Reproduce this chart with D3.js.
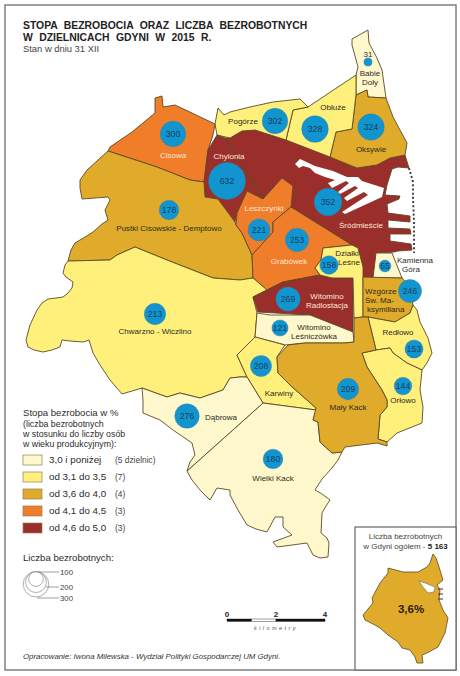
<!DOCTYPE html>
<html lang="pl">
<head>
<meta charset="utf-8">
<title>Stopa bezrobocia w dzielnicach Gdyni</title>
<script src="https://cdn.jsdelivr.net/npm/d3@7"></script>
<style>
  html, body { margin: 0; padding: 0; background: #fff; }
  svg { display: block; }
  text { font-family: "Liberation Sans", Arial, sans-serif; }
</style>
</head>
<body>
<svg id="chart" width="460" height="676"></svg>
<script>
// Dzielnice: names, rate class (0-4) and number of unemployed, same order in each list
const districts = ["Śródmieście", "Babie Doły", "Oksywie", "Obłuże", "Pogórze", "Cisowa", "Chylonia", "Pustki Cisowskie - Demptowo",
  "Leszczynki", "Grabówek", "Chwarzno - Wiczlino", "Witomino Radiostacja", "Witomino Leśniczówka", "Działki Leśne", "Kamienna Góra",
  "Wzgórze Św. Maksymiliana", "Redłowo", "Orłowo", "Karwiny", "Wielki Kack", "Dąbrowa", "Mały Kack"];
const rateClass = [4, 0, 2, 1, 1, 3, 4, 2, 3, 3, 1, 4, 0, 1, 0, 2, 1, 1, 1, 0, 0, 2];
const unemployed = [352, 31, 324, 328, 302, 300, 632, 178, 221, 253, 213, 269, 121, 158, 65, 246, 153, 144, 208, 180, 276, 209];

// Where each circle sits on the map, same order as districts
const bubbleAnchors = [[328,202],[368,62],[371,127],[315,129],[275,121],[173,134],[227,181],[169,210],[259,230],[297,240],[155,314],
  [288,299],[280,328],[329,265],[385,266],[410,291],[414,349],[403,386],[261,366],[273,459],[187,416],[348,389]];

// District outlines, same order as districts
const outlines = [
  [[225,138],[230,138],[242,131],[255,130],[288,140],[333,158],[353,167],[370,165],[390,158],[405,155],[409,168],[398,167],[392,169],[387,185],[385,195],[400,196],[399,199],[387,204],[388,213],[410,216],[410,222],[388,220],[388,228],[410,229],[411,234],[390,234],[390,241],[411,244],[412,250],[398,251],[394,252],[377,253],[373,278],[363,277],[358,248],[352,245],[291,207],[293,186],[282,178],[263,199]],
  [[352,39],[368,30],[369,43],[377,58],[382,70],[386,98],[368,97],[367,90],[356,95],[356,75],[358,67],[352,45]],
  [[356,95],[367,90],[368,97],[386,98],[393,117],[400,130],[407,143],[405,155],[390,158],[377,165],[357,168],[330,157],[336,132],[352,129]],
  [[356,75],[356,95],[352,129],[336,132],[330,157],[286,140],[293,110],[308,107]],
  [[218,108],[224,115],[230,112],[250,107],[273,102],[300,99],[308,107],[293,110],[286,140],[255,130],[242,131],[230,138],[217,135],[215,124]],
  [[108,151],[110,147],[132,132],[155,113],[155,98],[162,96],[163,107],[175,105],[215,124],[213,135],[208,150],[204,182],[190,180],[157,167]],
  [[217,135],[225,138],[263,199],[247,191],[237,213],[235,222],[218,199],[205,197],[204,182],[208,150]],
  [[108,151],[157,167],[190,180],[204,182],[205,197],[218,199],[235,222],[236,225],[242,233],[252,255],[253,278],[240,280],[213,278],[167,260],[135,247],[117,255],[110,260],[68,261],[71,250],[75,243],[85,237],[93,232],[102,224],[108,220],[105,210],[110,200],[108,197],[95,198],[82,199],[80,188],[80,180],[87,170],[98,160]],
  [[247,191],[263,199],[282,178],[293,186],[291,207],[273,222],[273,232],[252,255],[242,233],[236,225],[237,213]],
  [[291,207],[352,245],[323,248],[321,260],[315,268],[320,275],[283,282],[267,290],[253,278],[252,255],[273,232],[273,222]],
  [[68,261],[110,260],[117,255],[135,247],[167,260],[213,278],[240,280],[253,278],[267,290],[253,297],[257,313],[255,337],[237,355],[247,377],[240,377],[230,378],[223,390],[200,398],[180,393],[167,397],[142,388],[122,394],[110,380],[100,365],[93,353],[89,340],[83,342],[70,341],[62,340],[60,347],[52,350],[43,352],[34,350],[28,347],[26,340],[30,325],[37,310],[42,303],[48,299],[56,298],[63,297],[68,293],[72,288],[73,282],[66,277],[63,273],[65,265]],
  [[253,297],[283,282],[320,275],[332,278],[353,278],[353,332],[310,315],[258,312]],
  [[257,313],[270,315],[310,315],[353,332],[354,342],[345,343],[305,343],[285,345],[255,337]],
  [[323,248],[352,245],[358,248],[363,267],[363,317],[354,318],[353,278],[332,278],[320,275],[315,268],[321,260]],
  [[376,253],[392,253],[402,278],[373,278]],
  [[363,277],[402,278],[408,285],[413,305],[410,313],[395,322],[368,317],[363,317]],
  [[368,317],[395,322],[410,313],[413,305],[417,310],[420,322],[428,338],[432,353],[427,363],[422,370],[407,363],[393,353],[390,348],[376,350]],
  [[362,353],[376,350],[390,348],[393,353],[407,363],[422,370],[420,390],[423,407],[422,423],[397,433],[387,442],[378,439],[380,415],[387,407],[387,400],[382,390],[367,367]],
  [[237,355],[255,337],[285,345],[277,357],[278,373],[290,385],[316,408],[316,410],[263,403],[247,377]],
  [[187,471],[263,403],[316,410],[313,420],[318,422],[320,442],[332,453],[342,452],[338,460],[332,468],[322,479],[315,490],[322,494],[330,500],[326,506],[322,513],[321,533],[327,538],[329,543],[328,557],[320,558],[313,555],[307,543],[292,545],[277,547],[273,542],[292,535],[283,527],[283,517],[275,517],[267,532],[256,529],[247,525],[238,510],[230,495],[230,490],[217,488],[210,500],[200,490],[192,480]],
  [[142,388],[167,397],[180,393],[200,398],[223,390],[230,378],[240,377],[247,377],[263,403],[187,471],[190,462],[195,455],[192,443],[173,430],[160,420],[143,413],[143,400]],
  [[354,318],[363,317],[368,317],[376,350],[362,353],[367,367],[382,390],[387,400],[387,407],[380,415],[378,439],[387,442],[387,446],[377,443],[345,447],[342,452],[332,453],[320,442],[318,422],[313,420],[316,408],[290,385],[278,373],[277,357],[288,345],[305,343],[345,343],[354,342]]
];

// Harbour basins cut out of Śródmieście
const harbour = [[295,164],[300,159],[315,166],[333,171],[347,177],[358,177],[362,181],[384,188],[382,197],[345,214],[342,212],[368,195],[364,192],[347,201],[344,198],[358,188],[355,186],[340,194],[338,192],[349,183],[346,181],[332,188],[328,183],[335,180],[325,177],[315,173],[310,168],[303,166],[299,168]];
const breakwater = [[409,168],[413,182],[413,198],[414,222],[414,242],[414,253]];

// Labels on the map: lines of text, anchor point, and whether they sit on a dark fill
const labelLines = [["Cisowa"],["Chylonia"],["Pogórze"],["Obłuże"],["Oksywie"],["Babie","Doły"],["31"],["Śródmieście"],["Leszczynki"],["Grabówek"],
  ["Działki"],["Leśne"],["Kamienna"],["Góra"],["Witomino","Radiostacja"],["Witomino","Leśniczówka"],["Redłowo"],["Orłowo"],["Mały Kack"],["Karwiny"],["Dąbrowa"],["Wielki Kack"],
  ["Pustki Cisowskie - Demptowo"],["Chwarzno - Wiczlino"]];
const labelAnchors = [[173,158],[229,159],[243,124],[333,110],[371,152],[370,76],[368,57],[361,228],[264,211],[289,264],
  [347,256],[349,265],[415,263],[411,272],[327,299],[314,330],[398,335],[403,403],[348,410],[279,396],[221,420],[273,481],[169,231],[155,334]];
const labelLight = ["Cisowa", "Chylonia", "Śródmieście", "Leszczynki", "Grabówek", "Witomino,Radiostacja"];

// Legend
const classLabels = ["3,0 i poniżej", "od 3,1 do 3,5", "od 3,6 do 4,0", "od 4,1 do 4,5", "od 4,6 do 5,0"];
const classCounts = ["(5 dzielnic)", "(7)", "(4)", "(3)", "(3)"];
const classColors = ["#fff8cc", "#fff07c", "#e0ab2b", "#f07d29", "#9a2e2a"];
const sizeLegend = [300, 200, 100];

// Inset outline of the whole city
const cityOutline = [[433,554],[436,558],[440,570],[443,580],[437,585],[440,590],[439,600],[443,610],[448,618],[445,633],[438,647],[427,653],[422,655],[423,663],[417,663],[415,657],[410,650],[402,648],[398,642],[388,635],[380,628],[375,625],[365,620],[363,615],[373,603],[372,598],[380,583],[388,573],[388,568],[403,572],[418,572],[427,567],[430,563]];
const cityHarbour = [[419,581],[425,583],[435,587],[434,592],[428,593],[423,587]];
const cityBreakwater = [[438,589],[443,589],[438,594],[443,594],[438,599],[443,599]];

const svg = d3.select("#chart");
const projection = d3.geoIdentity();
const path = d3.geoPath(projection);
const polygon = ring => ({ type: "Polygon", coordinates: [[...ring, ring[0]]] });
const radius = d3.scaleSqrt().domain([0, 632]).range([0, 18.5]);
const colorOf = d3.scaleOrdinal().domain(d3.range(5)).range(classColors);
const lineColor = "#5b4a22";

function addText(g, str, x, y, size, opts = {}) {
  return g.append("text")
    .attr("x", x).attr("y", y)
    .attr("font-size", size)
    .attr("fill", opts.fill || "#2b2b2b")
    .attr("text-anchor", opts.anchor || "start")
    .attr("font-weight", opts.weight || null)
    .attr("font-style", opts.style || null)
    .attr("word-spacing", opts.wordSpacing || null)
    .attr("letter-spacing", opts.letterSpacing || null)
    .text(str);
}

// Frame and inset box
svg.append("rect").attr("x", 5).attr("y", 5).attr("width", 451).attr("height", 665)
  .attr("fill", "#fff").attr("stroke", "#777").attr("stroke-width", 1.4);
svg.append("rect").attr("x", 355).attr("y", 527).attr("width", 101).attr("height", 143)
  .attr("fill", "#fff").attr("stroke", "#666").attr("stroke-width", 1.2);

// Title
addText(svg, "STOPA BEZROBOCIA ORAZ LICZBA BEZROBOTNYCH", 23, 29, 10.4, { weight: "bold", wordSpacing: 3.5, fill: "#222" });
addText(svg, "W DZIELNICACH GDYNI W 2015 R.", 23, 41, 10.4, { weight: "bold", wordSpacing: 3.5, fill: "#222" });
addText(svg, "Stan w dniu 31 XII", 23, 52, 9.4, { fill: "#444" });

// Map
const map = svg.append("g");
map.selectAll("path.district")
  .data(districts)
  .join("path")
    .attr("class", "district")
    .attr("d", (d, i) => path(polygon(outlines[i])))
    .attr("fill", (d, i) => colorOf(rateClass[i]))
    .attr("stroke", lineColor)
    .attr("stroke-width", 0.9)
    .attr("stroke-linejoin", "round");

map.append("path").attr("d", path(polygon(harbour))).attr("fill", "#fff").attr("stroke", "none");
map.append("path")
  .attr("d", path({ type: "LineString", coordinates: breakwater }))
  .attr("fill", "none").attr("stroke", "#333").attr("stroke-width", 1.8).attr("stroke-dasharray", "2 2.2");

// Circles, sized by number of unemployed
const bubbles = map.selectAll("g.bubble")
  .data(unemployed)
  .join("g")
    .attr("class", "bubble")
    .attr("transform", (d, i) => `translate(${projection(bubbleAnchors[i])})`);

bubbles.append("circle")
  .attr("r", d => radius(d))
  .attr("fill", "#1295cf")
  .attr("stroke", "#2a7fae")
  .attr("stroke-width", 0.4);

bubbles.filter(d => d !== 31).append("text")
  .attr("text-anchor", "middle")
  .attr("dy", "0.35em")
  .attr("font-size", 8.6)
  .attr("fill", "#17405f")
  .text(d => d);

// District names
labelLines.forEach((lines, i) => {
  const [x, y] = projection(labelAnchors[i]);
  const light = labelLight.includes(lines.join(","));
  lines.forEach((line, j) => {
    addText(map, line, x, y + j * 8.6, 8, { anchor: "middle", fill: light ? "#fde6d8" : "#2f2a1e" });
  });
});
["Wzgórze", "Św. Ma-", "ksymiliana"].forEach((line, i) => {
  addText(map, line, i === 2 ? 367 : 365, 294 + i * 9, 8, { fill: "#2f2a1e" });
});

// Colour legend
addText(svg, "Stopa bezrobocia w %", 23, 416, 9.6);
["(liczba bezrobotnych", "w stosunku do liczby osób", "w wieku produkcyjnym):"].forEach((line, i) => {
  addText(svg, line, 23, 427 + i * 10, 8.8);
});

const legendY = d3.scaleBand().domain(classLabels).range([452, 537]);
const legendRows = svg.selectAll("g.row")
  .data(classLabels)
  .join("g")
    .attr("class", "row")
    .attr("transform", d => `translate(0,${legendY(d)})`);
legendRows.append("rect")
  .attr("x", 23).attr("y", 3).attr("width", 19).attr("height", 10)
  .attr("fill", (d, i) => classColors[i])
  .attr("stroke", "#8a8060").attr("stroke-width", 0.7);
legendRows.append("text")
  .attr("x", 49).attr("y", 11).attr("font-size", 9.8).attr("fill", "#2b2b2b")
  .text(d => d);
legendRows.append("text")
  .attr("x", 115).attr("y", 11).attr("font-size", 8.4).attr("fill", "#444")
  .text((d, i) => classCounts[i]);

// Size legend
addText(svg, "Liczba bezrobotnych:", 23, 561, 9.6);
const sizeGroup = svg.append("g");
const leaderY = d3.scaleOrdinal().domain(sizeLegend).range([598, 587, 572]);
const leaderStart = d3.scaleOrdinal().domain(sizeLegend).range([37, 46, 38]);
sizeGroup.selectAll("circle")
  .data(sizeLegend)
  .join("circle")
    .attr("cx", 36)
    .attr("cy", d => 571.5 + radius(d) * (d === 300 ? 1 : 1.02))
    .attr("r", d => radius(d))
    .attr("fill", "#fff").attr("fill-opacity", 0.3)
    .attr("stroke", "#999").attr("stroke-width", 0.8);
sizeGroup.selectAll("line")
  .data(sizeLegend)
  .join("line")
    .attr("x1", d => leaderStart(d)).attr("x2", 59)
    .attr("y1", d => leaderY(d)).attr("y2", d => leaderY(d))
    .attr("stroke", "#777").attr("stroke-width", 0.7);
sizeGroup.selectAll("text")
  .data(sizeLegend)
  .join("text")
    .attr("x", 60)
    .attr("y", d => leaderY(d))
    .attr("dy", "0.35em")
    .attr("font-size", 7.8)
    .attr("fill", "#444")
    .text(d => d);

// Scale bar
const scaleKm = d3.scaleLinear().domain([0, 4]).range([227, 325]);
const scaleTicks = [0, 2, 4];
const scaleSegments = [[0, 1, "#111"], [1, 2, "#fff"], [2, 4, "#111"]];
const bar = svg.append("g");
bar.selectAll("rect")
  .data(scaleSegments)
  .join("rect")
    .attr("x", d => scaleKm(d[0]))
    .attr("y", 619)
    .attr("width", d => scaleKm(d[1]) - scaleKm(d[0]))
    .attr("height", 2.4)
    .attr("fill", d => d[2])
    .attr("stroke", "#111")
    .attr("stroke-width", 0.4);
bar.selectAll("text")
  .data(scaleTicks)
  .join("text")
    .attr("x", d => scaleKm(d))
    .attr("y", 617)
    .attr("text-anchor", "middle")
    .attr("font-size", 8)
    .attr("font-weight", "bold")
    .attr("fill", "#222")
    .text(d => d);
addText(svg, "kilometry", 276, 630, 5.6, { anchor: "middle", style: "italic", letterSpacing: 2.4, fill: "#555" });

// Footer
addText(svg, "Opracowanie: Iwona Milewska - Wydział Polityki Gospodarczej UM Gdyni.", 23, 659, 7.85, { style: "italic", fill: "#333" });

// Inset
addText(svg, "Liczba bezrobotnych", 405.5, 539, 8, { anchor: "middle", fill: "#444" });
const insetLine = addText(svg, "w Gdyni ogółem - ", 405.5, 549, 8, { anchor: "middle", fill: "#444" });
insetLine.append("tspan").attr("font-weight", "bold").attr("fill", "#222").text("5 163");
svg.append("path").attr("d", path(polygon(cityOutline)))
  .attr("fill", classColors[2]).attr("stroke", lineColor).attr("stroke-width", 0.8);
svg.append("path").attr("d", path(polygon(cityHarbour)))
  .attr("fill", "#fff").attr("stroke", "#555").attr("stroke-width", 0.5);
svg.append("path").attr("d", path({ type: "MultiLineString", coordinates: d3.pairs(cityBreakwater).filter((p, i) => i % 2 === 0) }))
  .attr("fill", "none").attr("stroke", "#333").attr("stroke-width", 1);
addText(svg, "3,6%", 411, 613, 11.5, { anchor: "middle", weight: "bold", fill: "#2a2010" });
</script>
</body>
</html>
